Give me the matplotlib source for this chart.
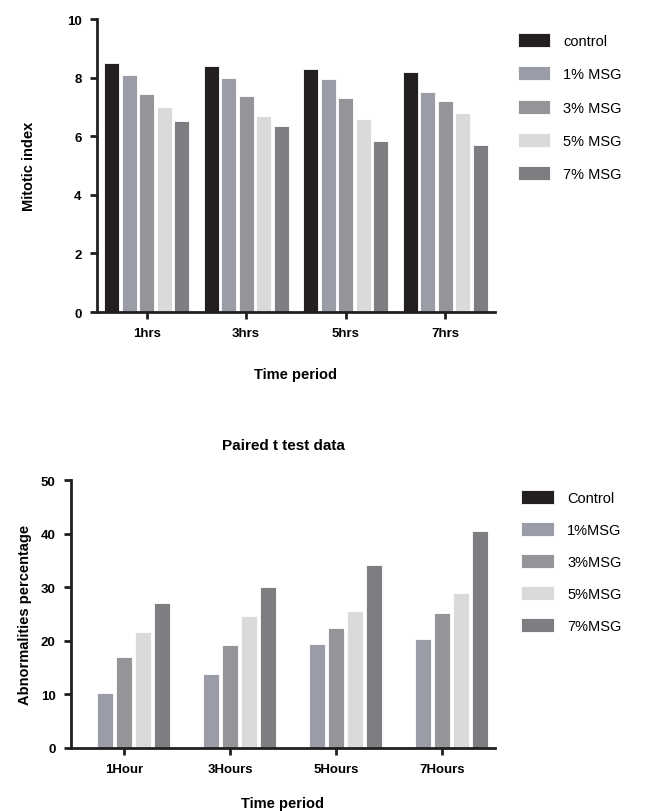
import numpy as np
import matplotlib
matplotlib.use("Agg")
import matplotlib.pyplot as plt

plt.rcParams['font.family'] = ['Liberation Sans', 'DejaVu Sans']

# Mitotic index data
mi_periods = ["1hrs", "3hrs", "5hrs", "7hrs"]
mi_labels = ["control", "1% MSG", "3% MSG", "5% MSG", "7% MSG"]
mi_control = [8.5, 8.4, 8.3, 8.2]
mi_msg1 = [8.1, 8.0, 7.95, 7.5]
mi_msg3 = [7.45, 7.38, 7.3, 7.2]
mi_msg5 = [7.0, 6.68, 6.6, 6.78]
mi_msg7 = [6.53, 6.35, 5.85, 5.7]

# Abnormalities data (paired t test)
ab_periods = ["1Hour", "3Hours", "5Hours", "7Hours"]
ab_labels = ["Control", "1%MSG", "3%MSG", "5%MSG", "7%MSG"]
ab_control = [0, 0, 0, 0]
ab_msg1 = [10.3, 13.8, 19.4, 20.3]
ab_msg3 = [16.9, 19.2, 22.4, 25.2]
ab_msg5 = [21.7, 24.6, 25.5, 29.0]
ab_msg7 = [27.1, 30.0, 34.1, 40.5]

colors = ["#231f20", "#9a9da7", "#939598", "#d9dadc", "#7d7e82"]

fig = plt.figure(figsize=(6.5, 8.12), dpi=100)
ax1 = fig.add_axes([0.149, 0.6145, 0.6123, 0.3608])
ax2 = fig.add_axes([0.1092, 0.0776, 0.6523, 0.330])


def draw(ax, periods, series, labels, slot, width):
    x = np.arange(len(periods))
    for i, (vals, lab) in enumerate(zip(series, labels)):
        ax.bar(x + (i - 2) * slot, vals, width, color=colors[i],
               edgecolor="white", linewidth=0.6, label=lab)
    ax.set_xticks(x)
    ax.set_xticklabels(periods, fontweight="bold", fontsize=9.5)
    ax.set_xlim(-0.5, len(periods) - 0.5)
    for s in ["top", "right"]:
        ax.spines[s].set_visible(False)
    for s in ["left", "bottom"]:
        ax.spines[s].set_linewidth(2)
        ax.spines[s].set_color("#231f20")
    ax.tick_params(axis="both", width=2, length=5, color="#231f20",
                   labelsize=9.5, pad=6)


draw(ax1, mi_periods, [mi_control, mi_msg1, mi_msg3, mi_msg5, mi_msg7],
     mi_labels, 0.176, 0.152)
ax1.set_ylim(0, 10)
ax1.set_yticks(range(0, 11, 2))
for t in ax1.get_yticklabels():
    t.set_fontweight("bold")
ax1.set_ylabel("Mitotic index", fontweight="bold", fontsize=10.5, labelpad=22)
ax1.set_xlabel("Time period", fontweight="bold", fontsize=10.5, labelpad=20)
ax1.legend(loc="upper left", bbox_to_anchor=(0.797, 0.958),
           bbox_transform=fig.transFigure, frameon=False, fontsize=10.5,
           handlelength=2.2, handleheight=1.1, labelspacing=1.26,
           handletextpad=0.9, borderpad=0, borderaxespad=0)

draw(ax2, ab_periods, [ab_control, ab_msg1, ab_msg3, ab_msg5, ab_msg7],
     ab_labels, 0.18, 0.155)
ax2.set_ylim(0, 50)
ax2.set_yticks(range(0, 51, 10))
for t in ax2.get_yticklabels():
    t.set_fontweight("bold")
ax2.set_ylabel("Abnormalities percentage", fontweight="bold", fontsize=10.5,
               labelpad=6)
ax2.set_xlabel("Time period", fontweight="bold", fontsize=10.5, labelpad=15)
ax2.set_title("Paired t test data", fontweight="bold", fontsize=11, pad=22)
ax2.legend(loc="upper left", bbox_to_anchor=(0.801, 0.395),
           bbox_transform=fig.transFigure, frameon=False, fontsize=10.5,
           handlelength=2.3, handleheight=1.1, labelspacing=1.16,
           handletextpad=0.9, borderpad=0, borderaxespad=0)

fig.savefig("out.png", dpi=100)
